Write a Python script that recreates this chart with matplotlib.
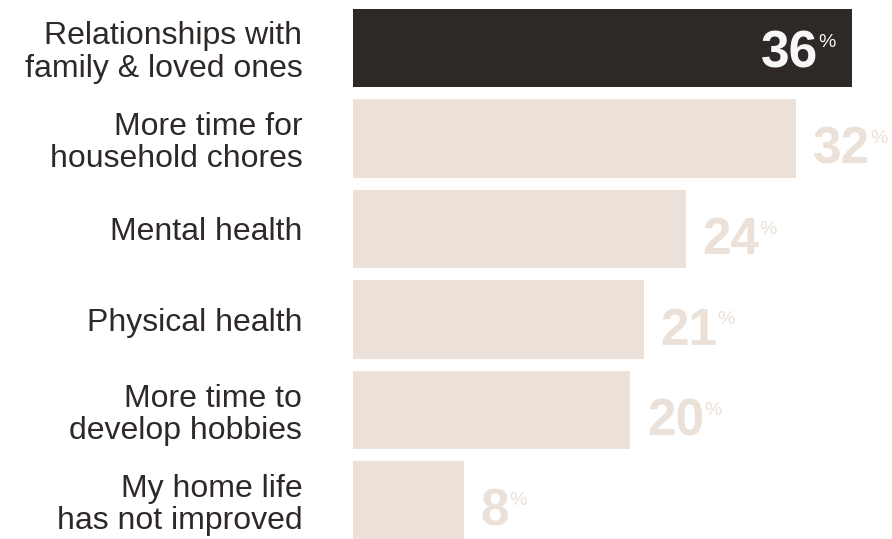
import matplotlib.pyplot as plt

# survey answers, top to bottom
labels = ["Relationships with\nfamily & loved ones",
          "More time for\nhousehold chores",
          "Mental health",
          "Physical health",
          "More time to\ndevelop hobbies",
          "My home life\nhas not improved"]
values = [36, 32, 24, 21, 20, 8]

DARK = "#2e2926"
LIGHT = "#ebe1d8"

plt.rcParams['font.family'] = ['Liberation Sans', 'DejaVu Sans']

fig = plt.figure(figsize=(8.92, 5.39), dpi=100)
ax = fig.add_axes([353 / 892, 0, 1 - 353 / 892, 1])

pos = list(range(len(values)))
colors = [DARK] + [LIGHT] * (len(values) - 1)
ax.barh(pos, values, height=0.87, color=colors)

ax.set_xlim(0, 38.9)
ax.set_ylim(5.425, -0.53)
for s in ax.spines.values():
    s.set_visible(False)
ax.set_xticks([])
ax.set_yticks(pos)
ax.set_yticklabels(labels, fontsize=23, color=DARK, linespacing=1.1)
ax.tick_params(axis='y', length=0, pad=36.5)

# value labels: big number with a small superscript percent sign
for i, v in enumerate(values):
    if i == 0:
        num = ax.annotate(str(v), xy=(v, i), xytext=(-24, -4), textcoords='offset points',
                          ha='right', va='center', fontsize=37, fontweight='bold',
                          color='#f7f7f7')
        col = '#f7f7f7'
    else:
        num = ax.annotate(str(v), xy=(v, i), xytext=(12, -18), textcoords='offset points',
                          ha='left', va='baseline', fontsize=37, fontweight='bold',
                          color=LIGHT)
        col = LIGHT
    ax.annotate('%', xy=(1, 1), xycoords=num, xytext=(0, -3.5), textcoords='offset points',
                ha='left', va='top', fontsize=14, color=col)

fig.savefig("out.png")
